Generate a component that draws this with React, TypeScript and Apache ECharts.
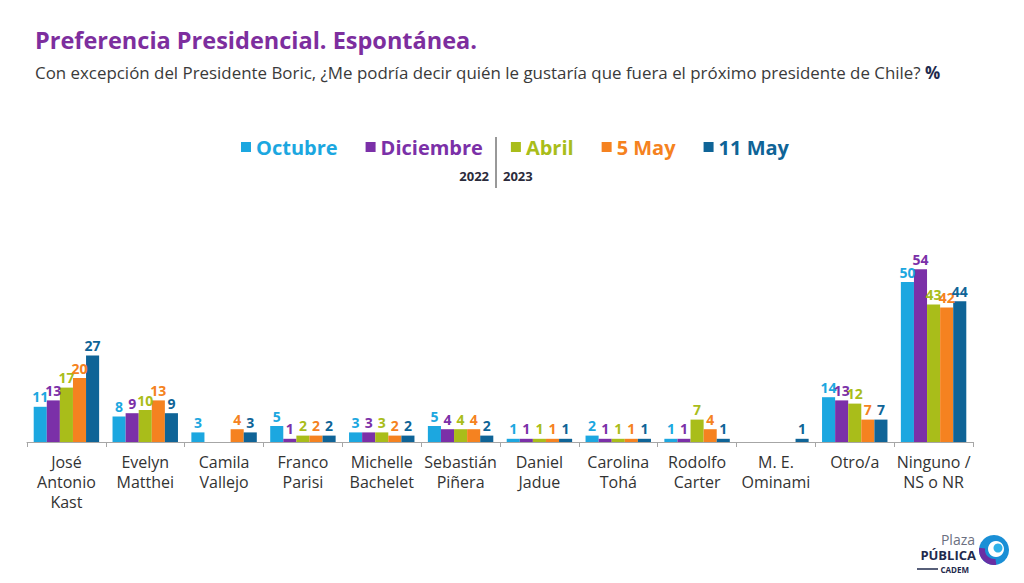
import { useEffect, useRef } from "react";
import * as echarts from "echarts";

const candidates = [
  "José\nAntonio\nKast",
  "Evelyn\nMatthei",
  "Camila\nVallejo",
  "Franco\nParisi",
  "Michelle\nBachelet",
  "Sebastián\nPiñera",
  "Daniel\nJadue",
  "Carolina\nTohá",
  "Rodolfo\nCarter",
  "M. E.\nOminami",
  "Otro/a",
  "Ninguno /\nNS o NR",
];

const octubre = [11, 8, 3, 5, 3, 5, 1, 2, 1, null, 14, 50];
const diciembre = [13, 9, null, 1, 3, 4, 1, 1, 1, null, 13, 54];
const abril = [17, 10, null, 2, 3, 4, 1, 1, 7, null, 12, 43];
const may5 = [20, 13, 4, 2, 2, 4, 1, 1, 4, null, 7, 42];
const may11 = [27, 9, 3, 2, 2, 2, 1, 1, 1, 1, 7, 44];

const waves = [
  { name: "Octubre", data: octubre, color: "#1ca7e0" },
  { name: "Diciembre", data: diciembre, color: "#7b30a8" },
  { name: "Abril", data: abril, color: "#a9bd1a" },
  { name: "5 May", data: may5, color: "#f58220" },
  { name: "11 May", data: may11, color: "#0f6497" },
];

const FONT = "'Open Sans', 'DejaVu Sans', sans-serif";

export default function App() {
  const chartRef = useRef<HTMLDivElement>(null);

  useEffect(() => {
    if (!chartRef.current) {
      return undefined;
    }

    const chart = echarts.init(chartRef.current, undefined, { renderer: "svg" });

    chart.setOption({
      animation: false,
      backgroundColor: "#ffffff",
      textStyle: { fontFamily: FONT },
      title: {
        left: 30,
        top: 23,
        text: "Preferencia Presidencial. Espontánea.",
        textStyle: { color: "#7d2e9e", fontSize: 23.5, fontWeight: "bold", fontFamily: FONT },
        subtext: "Con excepción del Presidente Boric, ¿Me podría decir quién le gustaría que fuera el próximo presidente de Chile? {pct|%}",
        subtextStyle: {
          color: "#3a3a3a",
          fontSize: 16.9,
          fontFamily: FONT,
          rich: { pct: { color: "#1f2a4d", fontSize: 16.9, fontWeight: "bold", fontFamily: FONT } },
        },
        itemGap: 12,
      },
      legend: {
        left: 236,
        top: 132,
        icon: "rect",
        itemWidth: 10,
        itemHeight: 10,
        itemGap: 28,
        textStyle: { fontSize: 20, fontWeight: "bold", fontFamily: FONT },
        data: waves.map((w) => ({ name: w.name, textStyle: { color: w.color } })),
      },
      grid: { left: 27, right: 51, top: 250, bottom: 141 },
      xAxis: {
        type: "category",
        data: candidates,
        axisLine: { lineStyle: { color: "#a6a6a6" } },
        axisTick: { show: true, length: 5, lineStyle: { color: "#a6a6a6" } },
        axisLabel: { color: "#333333", fontSize: 16, lineHeight: 20, margin: 10, interval: 0, fontFamily: FONT },
      },
      yAxis: { type: "value", min: 0, max: 60, show: false },
      series: waves.map((w) => ({
        name: w.name,
        type: "bar",
        data: w.data,
        barGap: "0%",
        barCategoryGap: "17%",
        itemStyle: { color: w.color },
        label: {
          show: true,
          position: "top",
          distance: 3,
          color: w.color,
          fontSize: 14,
          fontWeight: "bold",
          fontFamily: FONT,
        },
      })),
      graphic: [
        { type: "line", shape: { x1: 496, y1: 137, x2: 496, y2: 188 }, style: { stroke: "#333333", lineWidth: 1 } },
        {
          type: "text",
          x: 489,
          y: 176,
          style: { text: "2022", align: "right", verticalAlign: "middle", fill: "#2b2b3b", font: `bold 13px ${FONT}` },
        },
        {
          type: "text",
          x: 503,
          y: 176,
          style: { text: "2023", align: "left", verticalAlign: "middle", fill: "#2b2b3b", font: `bold 13px ${FONT}` },
        },
        {
          type: "text",
          x: 975,
          y: 539,
          style: { text: "Plaza", align: "right", verticalAlign: "middle", fill: "#6b6f80", font: `14px ${FONT}` },
        },
        {
          type: "text",
          x: 976,
          y: 555,
          style: { text: "PÚBLICA", align: "right", verticalAlign: "middle", fill: "#1f2a4d", font: `bold 13px ${FONT}` },
        },
        { type: "line", shape: { x1: 917, y1: 569, x2: 938, y2: 569 }, style: { stroke: "#1f2a4d", lineWidth: 1.5 } },
        {
          type: "text",
          x: 969,
          y: 569,
          style: { text: "CADEM", align: "right", verticalAlign: "middle", fill: "#1f2a4d", font: `bold 8px ${FONT}` },
        },
        { type: "circle", shape: { cx: 994, cy: 550, r: 15 }, style: { fill: "#1a8fd6" } },
        {
          type: "sector",
          shape: { cx: 994, cy: 550, r: 15, r0: 9, startAngle: Math.PI * 0.45, endAngle: Math.PI * 1.05 },
          style: { fill: "#6a2fa3" },
        },
        { type: "circle", shape: { cx: 996, cy: 549, r: 8 }, style: { fill: "#ffffff" } },
        { type: "circle", shape: { cx: 998, cy: 548, r: 4.5 }, style: { fill: "#2fb1e8" } },
      ],
    });

    return () => {
      chart.dispose();
    };
  }, []);

  return (
    <div
      ref={chartRef}
      style={{ position: "fixed", left: 0, top: 0, width: 1024, height: 583 }}
      aria-label="Bar chart"
    />
  );
}
